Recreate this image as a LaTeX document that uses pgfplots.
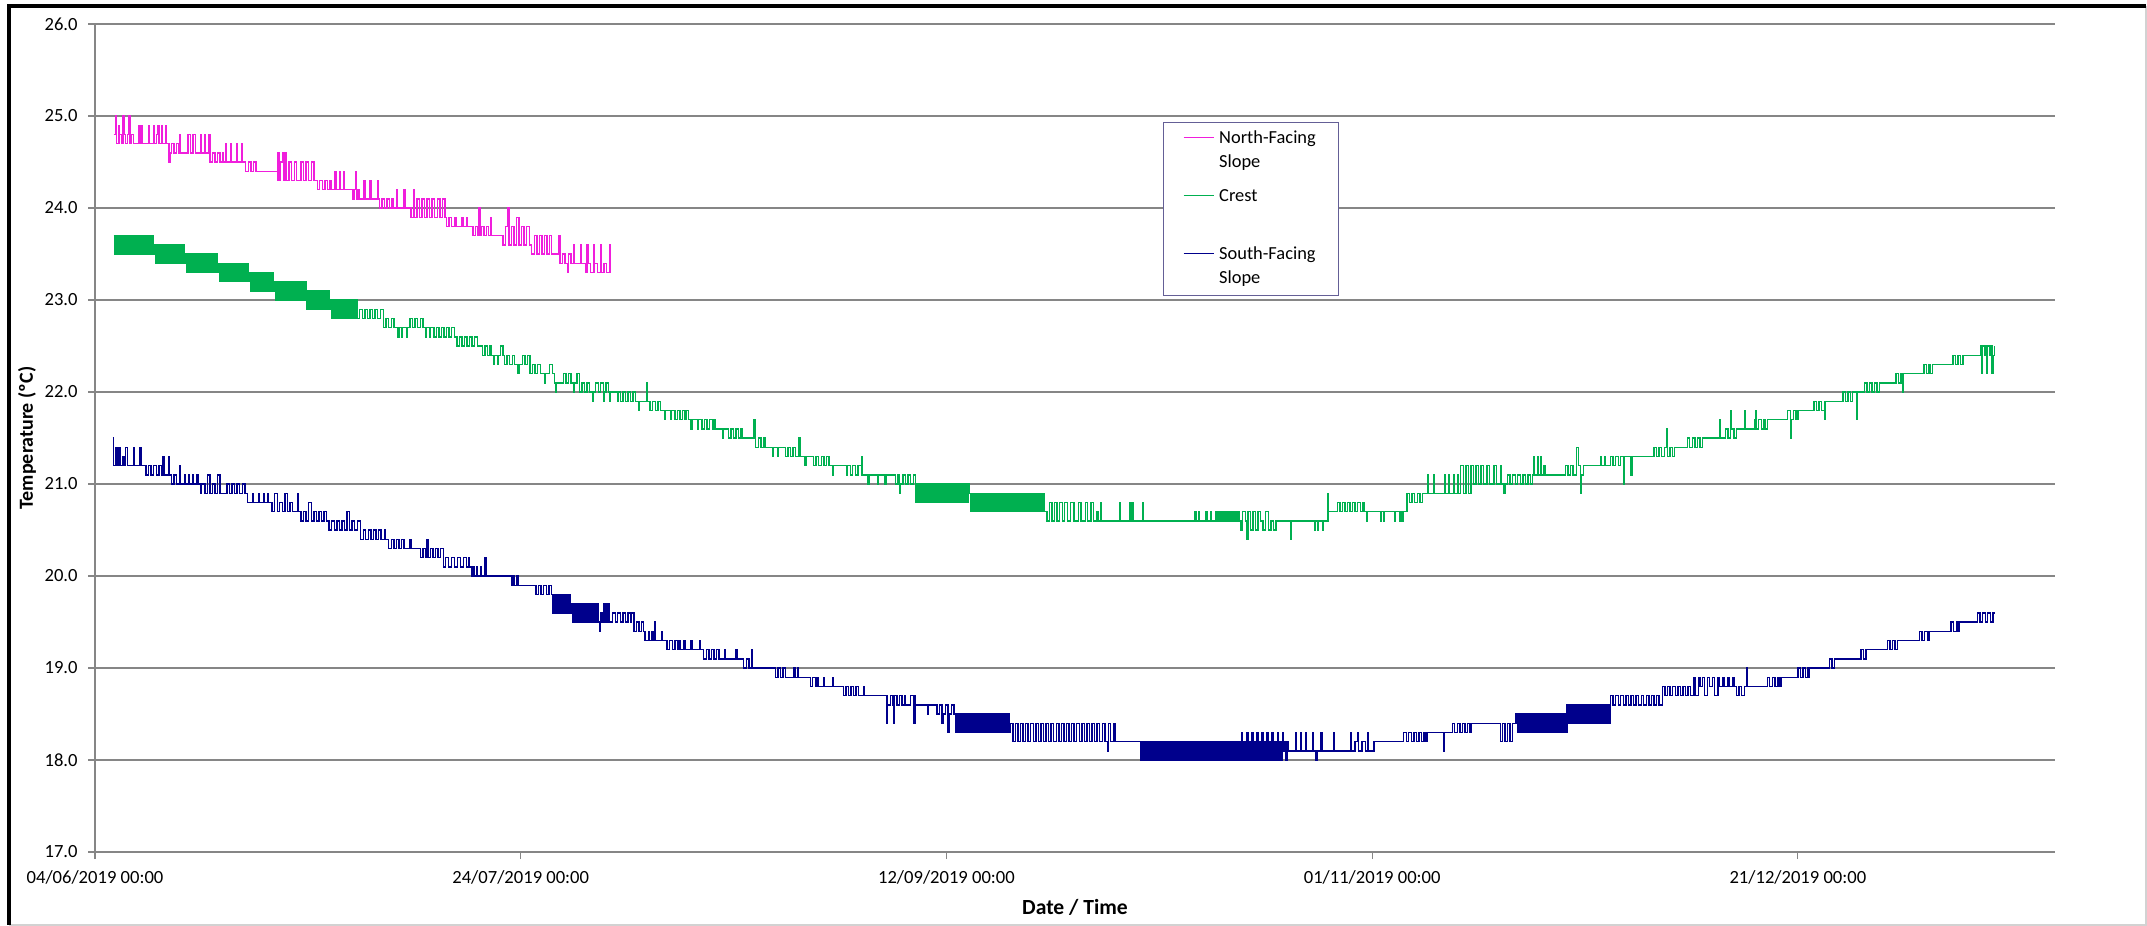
\documentclass[border=0pt]{standalone}
\usepackage{fontspec}
\setmainfont{Carlito}
\usepackage{pgfplots}
\pgfplotsset{compat=1.18}
\definecolor{northc}{RGB}{240,30,220}
\definecolor{crestc}{RGB}{0,176,80}
\definecolor{southc}{RGB}{0,0,140}
\definecolor{gridc}{RGB}{134,134,134}
\definecolor{legc}{RGB}{100,95,150}
\begin{document}
\begin{tikzpicture}
\useasboundingbox (-47.5pt,-37pt) rectangle (1026pt,426pt);
\fill[white] (-47.5pt,-37pt) rectangle (1026pt,426pt);
\draw[gray!35, line width=0.6pt] (1025.5pt,423pt) -- (1025.5pt,-36.5pt) -- (-43pt,-36.5pt);
\draw[black, line width=1.8pt] (-43pt,-36.5pt) -- (-43pt,423pt) -- (1025.5pt,423pt);
\begin{axis}[
  at={(0pt,0pt)}, anchor=south west,
  scale only axis, width=980pt, height=414pt,
  xmin=0, xmax=230.2, ymin=17, ymax=26,
  axis x line*=bottom, axis y line*=left,
  axis line style={draw=gridc, line width=0.6pt, -},
  tick align=outside, major tick length=3.5pt,
  tick style={draw=gridc, line width=0.6pt},
  xtick={0,50,100,150,200},
  xticklabels={04/06/2019 00:00, 24/07/2019 00:00, 12/09/2019 00:00, 01/11/2019 00:00, 21/12/2019 00:00},
  ytick={17,18,...,26},
  ymajorgrids, major grid style={draw=gridc, line width=0.6pt},
  tick label style={font=\fontsize{9.3}{11}\selectfont},
  yticklabel style={/pgf/number format/fixed, /pgf/number format/fixed zerofill, /pgf/number format/precision=1, /pgf/number format/assume math mode=true},
  yticklabel style={anchor=east, inner sep=0pt, xshift=-5pt},
  xticklabel style={anchor=base, yshift=-12pt},
  xlabel={Date / Time}, ylabel={Temperature (ºC)},
  xlabel style={font=\bfseries\fontsize{10.8}{12}\selectfont, at={(axis description cs:0.5,-0.0749)}, anchor=base},
  ylabel style={font=\bfseries\fontsize{10}{12}\selectfont, at={(axis description cs:-0.0347,0.5)}, anchor=center},
  legend style={at={(rel axis cs:0.5449,0.8816)}, anchor=north west, draw=legc, line width=0.6pt,
    inner sep=3.5pt, row sep=7.5pt, column sep=2.5pt, font=\fontsize{9.2}{12}\selectfont,
    nodes={inner sep=0pt, text depth=}, cells={anchor=base west}},
  legend image code/.code={\path[draw=none, fill=none] (0pt,3pt) -- (6.5pt,3pt); \draw[#1] (6.5pt,3pt) -- (21.5pt,3pt);},
]
\addplot[northc, line width=0.7pt, const plot, forget plot] coordinates {
(2.2,24.8)(2.4,25.0)(2.5,24.7)(2.8,24.9)(2.9,24.8)(3.1,24.7)(3.3,25.0)(3.4,24.8)(3.6,24.7)(3.8,24.8)(4.0,25.0)(4.1,24.7)(4.3,24.8)(4.5,24.7)
(5.1,24.9)(5.2,24.7)(5.4,24.9)(5.5,24.7)(6.3,24.9)(6.4,24.7)(6.9,24.9)(7.0,24.7)(7.2,24.8)(7.4,24.9)(7.5,24.7)(7.8,24.9)(7.9,24.7)(8.3,24.9)(8.4,24.7)(8.7,24.5)(8.8,24.6)
(9.0,24.7)(9.3,24.6)(9.6,24.7)(9.8,24.6)(9.9,24.8)(10.0,24.6)(10.9,24.8)(11.2,24.6)(11.5,24.8)(11.8,24.6)(12.4,24.8)(12.5,24.6)(12.9,24.8)(13.0,24.6)(13.4,24.8)(13.5,24.5)
(13.8,24.6)(14.1,24.5)(14.4,24.6)(14.7,24.5)(15.0,24.6)(15.1,24.5)(15.3,24.7)(15.4,24.5)(15.9,24.7)(16.0,24.5)(16.6,24.7)(16.7,24.5)(17.2,24.7)(17.3,24.5)(17.7,24.4)
(18.0,24.5)(18.3,24.4)(18.6,24.5)(18.9,24.4)(21.4,24.3)
(21.5,24.6)(21.6,24.3)(21.8,24.5)(22.1,24.6)(22.2,24.3)(22.4,24.6)(22.5,24.3)(22.8,24.5)(23.1,24.3)(23.4,24.5)(23.7,24.3)(24.2,24.5)(24.5,24.3)(24.8,24.5)(25.1,24.3)(25.4,24.5)(25.7,24.3)(26.1,24.2)
(26.4,24.3)(26.7,24.2)(27.0,24.3)(27.3,24.2)(27.6,24.3)(27.7,24.2)(28.2,24.4)(28.3,24.2)(28.7,24.4)(28.8,24.2)(29.2,24.4)(29.3,24.2)(30.3,24.1)
(30.5,24.2)(30.6,24.4)(30.7,24.1)(30.9,24.2)(31.1,24.1)(31.6,24.3)(31.7,24.1)(32.3,24.3)(32.4,24.1)(33.2,24.3)(33.3,24.1)(33.4,24.0)
(33.7,24.1)(34.0,24.0)(34.3,24.1)(34.6,24.0)(34.9,24.1)(35.0,24.0)(35.4,24.2)(35.5,24.0)(36.3,24.2)(36.4,24.0)(37.1,23.9)
(37.4,24.2)(37.5,23.9)(37.8,24.1)(38.1,23.9)(38.4,24.1)(38.7,23.9)(39.0,24.1)(39.3,23.9)(39.6,24.1)(39.9,23.9)(40.2,24.1)(40.5,23.9)(40.8,24.1)(41.1,23.9)(41.3,23.8)
(41.6,23.9)(41.9,23.8)(42.2,23.9)(42.4,23.8)(43.1,23.9)(43.2,23.8)(43.6,23.9)(43.7,23.8)(44.4,23.7)
(44.7,23.8)(45.0,23.7)(45.1,24.0)(45.2,23.7)(45.4,23.8)(45.7,23.7)(46.0,23.8)(46.2,23.7)(46.5,23.9)(46.6,23.7)(47.9,23.6)
(48.2,23.8)(48.5,24.0)(48.6,23.6)(48.9,23.8)(49.2,23.6)(49.5,23.9)(49.8,23.6)(50.1,23.8)(50.4,23.6)(50.7,23.8)(51.0,23.6)(51.3,23.5)
(51.6,23.7)(51.9,23.5)(52.2,23.7)(52.5,23.5)(52.8,23.7)(53.1,23.5)(53.4,23.7)(53.6,23.5)(54.5,23.7)(54.6,23.4)
(54.9,23.5)(55.2,23.4)(55.5,23.3)(55.6,23.5)(55.9,23.4)(56.2,23.6)(56.3,23.4)(57.0,23.6)(57.1,23.4)(57.6,23.3)
(57.8,23.6)(57.9,23.4)(58.2,23.3)(58.6,23.6)(58.7,23.4)(59.0,23.3)(59.4,23.6)(59.5,23.3)(59.8,23.4)(60.1,23.3)(60.4,23.6)(60.5,23.3)(60.6,23.3)
};
\addplot[crestc, line width=0.7pt, const plot, forget plot] coordinates {
(2.20,23.7)(2.35,23.5)(2.50,23.7)(2.65,23.5)(2.80,23.7)(2.95,23.5)(3.10,23.7)(3.25,23.5)(3.40,23.7)(3.55,23.5)(3.70,23.7)(3.85,23.5)(4.00,23.7)(4.15,23.5)(4.30,23.7)(4.45,23.5)(4.60,23.7)(4.75,23.5)(4.90,23.7)(5.05,23.5)(5.20,23.7)(5.35,23.5)(5.50,23.7)(5.65,23.5)(5.80,23.7)(5.95,23.5)(6.10,23.7)(6.25,23.5)(6.40,23.7)(6.55,23.5)(6.70,23.7)(6.85,23.5)
(7.00,23.6)(7.15,23.4)(7.30,23.6)(7.45,23.4)(7.60,23.6)(7.75,23.4)(7.90,23.6)(8.05,23.4)(8.20,23.6)(8.35,23.4)(8.50,23.6)(8.65,23.4)(8.80,23.6)(8.95,23.4)(9.10,23.6)(9.25,23.4)(9.40,23.6)(9.55,23.4)(9.70,23.6)(9.85,23.4)(10.00,23.6)(10.15,23.4)(10.30,23.6)(10.45,23.4)
(10.60,23.5)(10.75,23.3)(10.90,23.5)(11.05,23.3)(11.20,23.5)(11.35,23.3)(11.50,23.5)(11.65,23.3)(11.80,23.5)(11.95,23.3)(12.10,23.5)(12.25,23.3)(12.40,23.5)(12.55,23.3)(12.70,23.5)(12.85,23.3)(13.00,23.5)(13.15,23.3)(13.30,23.5)(13.45,23.3)(13.60,23.5)(13.75,23.3)(13.90,23.5)(14.05,23.3)(14.20,23.5)(14.35,23.3)
(14.50,23.4)(14.65,23.2)(14.80,23.4)(14.95,23.2)(15.10,23.4)(15.25,23.2)(15.40,23.4)(15.55,23.2)(15.70,23.4)(15.85,23.2)(16.00,23.4)(16.15,23.2)(16.30,23.4)(16.45,23.2)(16.60,23.4)(16.75,23.2)(16.90,23.4)(17.05,23.2)(17.20,23.4)(17.35,23.2)(17.50,23.4)(17.65,23.2)(17.80,23.4)(17.95,23.2)
(18.10,23.3)(18.25,23.1)(18.40,23.3)(18.55,23.1)(18.70,23.3)(18.85,23.1)(19.00,23.3)(19.15,23.1)(19.30,23.3)(19.45,23.1)(19.60,23.3)(19.75,23.1)(19.90,23.3)(20.05,23.1)(20.20,23.3)(20.35,23.1)(20.50,23.3)(20.65,23.1)(20.80,23.3)(20.95,23.1)
(21.10,23.2)(21.25,23.0)(21.40,23.2)(21.55,23.0)(21.70,23.2)(21.85,23.0)(22.00,23.2)(22.15,23.0)(22.30,23.2)(22.45,23.0)(22.60,23.2)(22.75,23.0)(22.90,23.2)(23.05,23.0)(23.20,23.2)(23.35,23.0)(23.50,23.2)(23.65,23.0)(23.80,23.2)(23.95,23.0)(24.10,23.2)(24.25,23.0)(24.40,23.2)(24.55,23.0)(24.70,23.2)
(24.85,22.9)(25.00,23.1)(25.15,22.9)(25.30,23.1)(25.45,22.9)(25.60,23.1)(25.75,22.9)(25.90,23.1)(26.05,22.9)(26.20,23.1)(26.35,22.9)(26.50,23.1)(26.65,22.9)(26.80,23.1)(26.95,22.9)(27.10,23.1)(27.25,22.9)(27.40,23.1)(27.55,22.9)
(27.70,23.0)(27.85,22.8)(28.00,23.0)(28.15,22.8)(28.30,23.0)(28.45,22.8)(28.60,23.0)(28.75,22.8)(28.90,23.0)(29.05,22.8)(29.20,23.0)(29.35,22.8)(29.50,23.0)(29.65,22.8)(29.80,23.0)(29.95,22.8)(30.10,23.0)(30.25,22.8)(30.40,23.0)(30.55,22.8)(30.70,23.0)
(30.8,22.8)(31.1,22.9)(31.4,22.8)(31.7,22.9)(32.0,22.8)(32.3,22.9)(32.6,22.8)(32.9,22.9)(33.2,22.8)(33.5,22.9)
(33.9,22.7)(34.2,22.8)(34.5,22.7)(34.8,22.8)(35.1,22.7)(35.6,22.6)(35.7,22.7)(36.0,22.6)(36.1,22.7)(36.6,22.6)(36.7,22.7)(37.0,22.8)(37.3,22.7)(37.6,22.8)(37.9,22.7)(38.2,22.8)(38.5,22.7)(38.8,22.6)(38.9,22.7)(39.3,22.6)(39.4,22.7)
(39.8,22.6)(40.1,22.7)(40.4,22.6)(40.7,22.7)(41.0,22.6)(41.3,22.7)(41.6,22.6)(41.9,22.7)(42.2,22.6)
(42.5,22.5)(42.8,22.6)(43.1,22.5)(43.4,22.6)(43.7,22.5)(44.0,22.6)(44.3,22.5)(44.6,22.6)(44.9,22.5)
(45.2,22.5)(45.5,22.4)(45.8,22.5)(46.1,22.4)(46.4,22.5)(46.5,22.4)(46.8,22.3)(46.9,22.4)(47.3,22.3)(47.4,22.4)(47.6,22.5)(47.9,22.4)
(48.1,22.3)(48.4,22.4)(48.7,22.3)(49.0,22.4)(49.3,22.3)(49.7,22.2)(49.8,22.3)(50.2,22.4)(50.5,22.3)(50.8,22.4)
(51.1,22.2)(51.4,22.3)(51.7,22.2)(52.0,22.3)(52.3,22.2)(52.8,22.1)(52.9,22.2)(53.4,22.3)(53.7,22.2)
(54.0,22.1)(54.1,22.0)(54.2,22.1)(55.0,22.2)(55.3,22.1)(55.6,22.2)(55.9,22.1)(56.2,22.0)(56.3,22.1)(56.6,22.2)
(56.9,22.0)(57.2,22.1)(57.5,22.0)(57.8,22.1)(58.1,22.0)(58.4,21.9)(58.5,22.0)(58.8,22.1)(59.1,22.0)(59.4,22.1)(59.7,21.9)(59.8,22.0)(60.0,22.1)(60.3,22.0)
(60.4,21.9)(60.5,22.0)(61.4,21.9)(61.5,22.0)
(61.7,21.9)(62.0,22.0)(62.3,21.9)(62.6,22.0)(62.9,21.9)(63.2,22.0)
(63.5,21.9)(63.8,21.8)(63.9,21.9)(64.8,22.1)(64.9,21.9)
(65.2,21.8)(65.5,21.9)(65.8,21.8)(66.1,21.9)(66.4,21.8)
(66.9,21.7)(67.0,21.8)(67.6,21.7)(67.7,21.8)
(68.1,21.7)(68.4,21.8)(68.7,21.7)(69.0,21.8)(69.3,21.7)(69.5,21.8)
(69.7,21.7)(70.0,21.6)(70.1,21.7)(70.8,21.6)(70.9,21.7)
(71.3,21.6)(71.6,21.7)(71.9,21.6)(72.2,21.7)(72.5,21.6)(72.7,21.7)
(72.9,21.6)(73.7,21.5)(73.8,21.6)
(74.4,21.5)(74.7,21.6)(75.0,21.5)(75.3,21.6)(75.6,21.5)(75.8,21.6)
(76.0,21.5)(77.4,21.7)(77.5,21.5)
(77.6,21.4)(77.9,21.5)(78.2,21.4)(78.5,21.5)(78.7,21.4)
(79.6,21.3)(79.7,21.4)(80.2,21.3)(80.3,21.4)
(81.1,21.3)(81.4,21.4)(81.7,21.3)(82.0,21.4)(82.3,21.3)(82.6,21.4)(82.7,21.5)
(82.8,21.3)(83.4,21.2)(83.5,21.3)
(84.4,21.2)(84.7,21.3)(85.0,21.2)(85.3,21.3)(85.6,21.2)(85.9,21.3)(86.2,21.2)
(86.6,21.1)(86.7,21.2)(88.3,21.1)(88.4,21.2)
(88.7,21.1)(89.0,21.2)(89.3,21.1)(89.6,21.2)(90.0,21.3)(90.1,21.1)
(90.8,21.0)(90.9,21.1)(91.9,21.0)(92.0,21.1)(92.8,21.0)(92.9,21.1)
(94.0,21.0)(94.3,21.1)(94.5,20.9)(94.6,21.0)(94.9,21.1)(95.2,21.0)(95.5,21.1)(95.8,21.0)(96.1,21.1)
(96.40,20.8)(96.55,21.0)(96.70,20.8)(96.85,21.0)(97.00,20.8)(97.15,21.0)(97.30,20.8)(97.45,21.0)(97.60,20.8)(97.75,21.0)(97.90,20.8)(98.05,21.0)(98.20,20.8)(98.35,21.0)(98.50,20.8)(98.65,21.0)(98.80,20.8)(98.95,21.0)(99.10,20.8)(99.25,21.0)(99.40,20.8)(99.55,21.0)(99.70,20.8)(99.85,21.0)(100.00,20.8)(100.15,21.0)(100.30,20.8)(100.45,21.0)(100.60,20.8)(100.75,21.0)(100.90,20.8)(101.05,21.0)(101.20,20.8)(101.35,21.0)(101.50,20.8)(101.65,21.0)(101.80,20.8)(101.95,21.0)(102.10,20.8)(102.25,21.0)(102.40,20.8)(102.55,21.0)
(102.70,20.9)(102.85,20.7)(103.00,20.9)(103.15,20.7)(103.30,20.9)(103.45,20.7)(103.60,20.9)(103.75,20.7)(103.90,20.9)(104.05,20.7)(104.20,20.9)(104.35,20.7)(104.50,20.9)(104.65,20.7)(104.80,20.9)(104.95,20.7)(105.10,20.9)(105.25,20.7)(105.40,20.9)(105.55,20.7)(105.70,20.9)(105.85,20.7)(106.00,20.9)(106.15,20.7)(106.30,20.9)(106.45,20.7)(106.60,20.9)(106.75,20.7)(106.90,20.9)(107.05,20.7)(107.20,20.9)(107.35,20.7)(107.50,20.9)(107.65,20.7)(107.80,20.9)(107.95,20.7)(108.10,20.9)(108.25,20.7)(108.40,20.9)(108.55,20.7)(108.70,20.9)(108.85,20.7)(109.00,20.9)(109.15,20.7)(109.30,20.9)(109.45,20.7)(109.60,20.9)(109.75,20.7)(109.90,20.9)(110.05,20.7)(110.20,20.9)(110.35,20.7)(110.50,20.9)(110.65,20.7)(110.80,20.9)(110.95,20.7)(111.10,20.9)(111.25,20.7)(111.40,20.9)(111.55,20.7)
(111.8,20.6)(112.1,20.8)(112.4,20.6)(112.7,20.8)(113.0,20.6)(113.3,20.8)(113.6,20.6)(113.9,20.8)(114.2,20.6)(114.6,20.8)(115.0,20.6)(115.5,20.8)(115.8,20.6)(116.3,20.8)(116.6,20.6)(117.0,20.8)(117.3,20.6)(117.6,20.7)(117.8,20.6)
(118.1,20.8)(118.2,20.6)(120.3,20.8)(120.4,20.6)(121.5,20.8)(121.6,20.6)(121.8,20.8)(121.9,20.6)(123.0,20.8)(123.1,20.6)
(129.2,20.7)(129.3,20.6)(129.6,20.7)(129.7,20.6)(130.5,20.7)(130.6,20.6)(131.0,20.7)(131.1,20.6)
(131.60,20.7)(131.75,20.6)(131.90,20.7)(132.05,20.6)(132.20,20.7)(132.35,20.6)(132.50,20.7)(132.65,20.6)(132.80,20.7)(132.95,20.6)(133.10,20.7)(133.25,20.6)(133.40,20.7)(133.55,20.6)(133.70,20.7)(133.85,20.6)(134.00,20.7)(134.15,20.6)(134.30,20.7)(134.45,20.6)
(134.6,20.5)(134.8,20.7)(135.1,20.6)(135.3,20.4)(135.4,20.7)(135.7,20.5)(136.0,20.7)(136.3,20.5)(136.6,20.7)(136.9,20.6)(137.2,20.5)(137.5,20.7)(137.8,20.5)(138.1,20.6)(138.4,20.5)(138.7,20.6)
(140.4,20.4)(140.5,20.6)(143.2,20.5)(143.3,20.6)(143.6,20.5)(143.7,20.6)(144.2,20.5)(144.3,20.6)(144.8,20.9)(144.9,20.7)
(145.9,20.8)(146.2,20.7)(146.5,20.8)(146.8,20.7)(147.1,20.8)(147.4,20.7)(147.7,20.8)(148.0,20.7)(148.3,20.8)(148.6,20.7)(148.9,20.8)(149.1,20.7)
(149.3,20.6)(149.4,20.7)(151.0,20.6)(151.1,20.7)(151.3,20.6)(151.4,20.7)(152.6,20.6)(152.7,20.7)(153.2,20.6)(153.3,20.7)(153.5,20.6)(153.6,20.7)
(154.1,20.9)(154.4,20.8)(154.7,20.9)(155.0,20.8)(155.3,20.9)(155.6,20.8)
(155.9,20.9)(156.5,21.1)(156.6,20.9)(157.2,21.1)(157.3,20.9)(158.5,21.1)(158.6,20.9)(159.0,21.1)(159.1,20.9)(159.6,21.1)(159.7,20.9)(160.0,21.1)(160.1,20.9)
(160.4,21.2)(160.7,20.9)(161.0,21.2)(161.3,20.9)(161.6,21.2)(161.9,21.0)(162.2,21.2)(162.5,21.0)
(162.8,21.2)(163.1,21.0)(163.5,21.2)(163.8,21.0)(164.3,21.2)(164.6,21.0)(165.1,21.2)(165.2,21.0)(165.5,20.9)(165.6,21.0)
(165.9,21.1)(166.2,21.0)(166.5,21.1)(166.8,21.0)(167.1,21.1)(167.4,21.0)(167.7,21.1)(168.0,21.0)(168.3,21.1)(168.6,21.0)
(168.8,21.1)(169.0,21.3)(169.1,21.1)(169.4,21.3)(169.5,21.1)(169.8,21.3)(169.9,21.1)(170.2,21.2)(170.3,21.1)
(172.7,21.2)(173.0,21.1)(173.3,21.2)(173.6,21.1)(174.0,21.4)(174.2,21.2)(174.5,20.9)(174.6,21.1)(174.8,21.2)
(176.8,21.3)(176.9,21.2)(177.3,21.3)(177.4,21.2)
(178.0,21.3)(178.3,21.2)(178.6,21.3)(178.9,21.2)(179.2,21.3)(179.5,21.0)(179.6,21.3)
(180.4,21.1)(180.5,21.3)
(183.1,21.4)(183.4,21.3)(183.7,21.4)(184.0,21.3)(184.3,21.4)(184.6,21.6)(184.7,21.3)(185.0,21.4)(185.3,21.3)(185.5,21.4)
(187.0,21.5)(187.3,21.4)(187.6,21.5)(187.9,21.4)(188.2,21.5)(188.5,21.4)(188.8,21.5)
(190.8,21.7)(190.9,21.5)
(191.5,21.6)(191.8,21.5)(192.1,21.8)(192.2,21.6)(192.5,21.5)(192.8,21.6)
(193.7,21.8)(193.8,21.6)
(194.9,21.7)(195.0,21.8)(195.1,21.6)(195.4,21.7)(195.7,21.6)(196.0,21.7)(196.2,21.6)(196.4,21.7)
(198.8,21.8)(199.1,21.5)(199.2,21.7)(199.5,21.8)(199.8,21.7)(200.0,21.8)
(201.9,21.9)(202.2,21.8)(202.5,21.9)(202.8,21.8)(203.1,21.7)(203.2,21.9)
(205.3,22.0)(205.6,21.9)(205.9,22.0)(206.2,21.9)(206.4,22.0)(206.9,21.7)(207.0,22.0)
(207.8,22.1)(208.1,22.0)(208.4,22.1)(208.7,22.0)(209.0,22.1)(209.3,22.0)(209.6,22.1)
(211.5,22.2)(211.8,22.1)(212.1,22.2)(212.3,22.0)(212.4,22.2)
(214.8,22.3)(215.1,22.2)(215.4,22.3)(215.6,22.2)(215.8,22.3)
(218.2,22.4)(218.5,22.3)(218.8,22.4)(219.1,22.3)(219.4,22.4)
(221.5,22.5)(221.6,22.2)(221.7,22.5)(221.9,22.4)(222.1,22.5)(222.2,22.2)(222.3,22.5)(222.5,22.4)(222.7,22.5)(222.8,22.2)(222.9,22.4)(223.1,22.5)
};
\addplot[southc, line width=0.7pt, const plot, forget plot] coordinates {
(2.1,21.5)(2.2,21.2)(2.4,21.4)(2.6,21.2)(2.8,21.4)(3.0,21.2)(3.2,21.3)(3.4,21.2)(3.6,21.4)(3.8,21.2)(4.5,21.4)(4.6,21.2)(5.3,21.4)(5.4,21.2)
(6.0,21.1)(6.3,21.2)(6.6,21.1)(6.9,21.2)(7.2,21.1)(7.5,21.2)(7.8,21.1)(8.0,21.3)(8.1,21.1)(8.6,21.3)(8.7,21.1)
(9.0,21.0)(9.3,21.1)(9.6,21.0)(9.9,21.2)(10.0,21.0)(10.5,21.1)(10.6,21.0)(11.0,21.1)(11.1,21.0)(11.5,21.1)(11.6,21.0)(12.0,21.1)(12.1,21.0)(12.4,20.9)(12.5,21.0)
(12.9,20.9)(13.2,21.1)(13.5,20.9)(13.8,21.0)(14.1,20.9)(14.4,21.1)(14.7,20.9)(15.5,21.0)(15.8,20.9)(16.1,21.0)(16.4,20.9)(16.7,21.0)(17.0,20.9)(17.3,21.0)(17.6,20.9)
(17.9,20.8)(18.5,20.9)(18.6,20.8)(19.2,20.9)(19.3,20.8)(19.8,20.9)(19.9,20.8)(20.3,20.9)(20.4,20.8)
(20.8,20.7)(21.1,20.9)(21.4,20.7)(21.7,20.8)(22.0,20.7)(22.3,20.9)(22.6,20.7)(22.9,20.8)(23.2,20.7)(23.8,20.9)(23.9,20.7)
(24.2,20.6)(24.5,20.7)(24.8,20.6)(25.1,20.8)(25.4,20.6)(25.7,20.7)(26.0,20.6)(26.3,20.7)(26.6,20.6)(26.9,20.7)(27.2,20.6)
(27.5,20.5)(27.8,20.6)(28.1,20.5)(28.4,20.6)(28.7,20.5)(29.0,20.6)(29.3,20.5)(29.6,20.7)(29.9,20.5)(30.2,20.6)(30.5,20.5)(30.8,20.6)
(31.2,20.4)(31.5,20.5)(31.8,20.4)(32.1,20.5)(32.4,20.4)(32.7,20.5)(33.0,20.4)(33.3,20.5)(33.6,20.4)(34.0,20.5)(34.1,20.4)
(34.5,20.3)(34.8,20.4)(35.1,20.3)(35.4,20.4)(35.7,20.3)(36.0,20.4)(36.3,20.3)(37.0,20.4)(37.1,20.3)
(38.2,20.2)(38.5,20.3)(38.8,20.2)(39.0,20.4)(39.1,20.2)(39.4,20.3)(39.7,20.2)(40.0,20.3)(40.3,20.2)(40.6,20.3)
(40.9,20.1)(41.2,20.2)(41.5,20.1)(41.9,20.2)(42.2,20.1)(42.6,20.2)(42.9,20.1)(43.3,20.2)(43.6,20.1)(43.9,20.2)(44.0,20.1)
(44.2,20.0)(44.4,20.1)(44.5,20.0)(44.8,20.1)(44.9,20.0)(45.3,20.1)(45.4,20.0)(45.8,20.2)(45.9,20.0)
(48.9,19.9)(49.1,20.0)(49.3,19.9)(49.5,20.0)(49.7,19.9)
(51.8,19.8)(52.1,19.9)(52.4,19.8)(52.7,19.9)(53.0,19.8)(53.3,19.9)
(53.60,19.8)(53.75,19.6)(53.90,19.8)(54.05,19.6)(54.20,19.8)(54.35,19.6)(54.50,19.8)(54.65,19.6)(54.80,19.8)(54.95,19.6)(55.10,19.8)(55.25,19.6)(55.40,19.8)(55.55,19.6)(55.70,19.8)(55.85,19.6)(56.00,19.7)
(56.10,19.5)(56.25,19.7)(56.40,19.5)(56.55,19.7)(56.70,19.5)(56.85,19.7)(57.00,19.5)(57.15,19.7)(57.30,19.5)(57.45,19.7)(57.60,19.5)(57.75,19.7)(57.90,19.5)(58.05,19.7)(58.20,19.5)(58.35,19.7)(58.50,19.5)(58.65,19.7)(58.80,19.5)(58.95,19.7)(59.10,19.5)(59.30,19.4)(59.40,19.6)(59.55,19.5)(59.70,19.7)(59.85,19.5)(60.00,19.7)(60.15,19.5)(60.30,19.7)(60.45,19.5)
(60.8,19.6)(61.1,19.5)(61.4,19.6)(61.7,19.5)(62.0,19.6)(62.3,19.5)(62.6,19.6)(62.9,19.5)(63.0,19.6)
(63.3,19.4)(63.6,19.5)(63.9,19.4)(64.2,19.5)(64.4,19.4)
(64.6,19.3)(65.0,19.4)(65.1,19.3)(65.4,19.4)(65.6,19.3)(65.7,19.5)(65.8,19.3)(66.5,19.4)(66.6,19.3)
(67.2,19.2)(67.5,19.3)(67.8,19.2)(68.1,19.3)(68.4,19.2)(68.6,19.3)(68.7,19.2)(69.2,19.3)(69.3,19.2)(70.0,19.3)(70.1,19.2)(71.0,19.3)(71.1,19.2)
(71.5,19.1)(71.8,19.2)(72.1,19.1)(72.4,19.2)(72.7,19.1)(73.0,19.2)(73.3,19.1)(73.9,19.2)(74.0,19.1)(75.3,19.2)(75.4,19.1)
(76.2,19.0)(76.5,19.1)(76.8,19.0)(77.1,19.2)(77.2,19.0)
(79.9,18.9)(80.2,19.0)(80.5,18.9)(80.8,19.0)(81.1,18.9)(82.1,19.0)(82.2,18.9)(82.5,19.0)(82.6,18.9)
(84.0,18.8)(84.3,18.9)(84.6,18.8)(84.8,18.9)(85.0,18.8)(85.6,18.9)(85.7,18.8)(86.6,18.9)(86.7,18.8)
(87.9,18.7)(88.2,18.8)(88.5,18.7)(88.8,18.8)(89.1,18.7)(89.4,18.8)(89.7,18.7)(90.3,18.8)(90.4,18.7)
(93.0,18.4)(93.1,18.6)(93.4,18.7)(93.7,18.6)(93.8,18.4)(93.9,18.7)(94.2,18.6)(94.5,18.7)(94.8,18.6)(95.1,18.7)(95.2,18.6)(95.8,18.7)(96.1,18.6)(96.2,18.4)(96.3,18.7)(96.4,18.6)(97.8,18.5)(97.9,18.6)
(98.9,18.5)(99.2,18.6)(99.5,18.4)(99.6,18.5)(99.9,18.6)(100.2,18.3)(100.3,18.5)(100.6,18.6)
(100.90,18.5)(101.05,18.3)(101.20,18.5)(101.35,18.3)(101.50,18.5)(101.65,18.3)(101.80,18.5)(101.95,18.3)(102.10,18.5)(102.25,18.3)(102.40,18.5)(102.55,18.3)(102.70,18.5)(102.85,18.3)(103.00,18.5)(103.15,18.3)(103.30,18.5)(103.45,18.3)(103.60,18.5)(103.75,18.3)(103.90,18.5)(104.05,18.3)(104.20,18.5)(104.35,18.3)(104.50,18.5)(104.65,18.3)(104.80,18.5)(104.95,18.3)(105.10,18.5)(105.25,18.3)(105.40,18.5)(105.55,18.3)(105.70,18.5)(105.85,18.3)(106.00,18.5)(106.15,18.3)(106.30,18.5)(106.45,18.3)(106.60,18.5)(106.75,18.3)(106.90,18.5)(107.05,18.3)(107.20,18.5)(107.35,18.3)
(107.5,18.4)(107.8,18.2)(108.1,18.4)(108.4,18.2)(108.7,18.4)(109.0,18.2)(109.3,18.4)(109.6,18.2)(109.9,18.4)(110.2,18.2)(110.5,18.4)(110.8,18.2)(111.1,18.4)(111.4,18.2)(111.7,18.4)(112.0,18.2)(112.3,18.4)(112.6,18.2)(112.9,18.4)(113.2,18.2)(113.5,18.4)(113.8,18.2)(114.1,18.4)(114.4,18.2)(114.7,18.4)(115.0,18.2)(115.3,18.4)(115.6,18.2)(115.9,18.4)(116.2,18.2)(116.5,18.4)(116.8,18.2)(117.1,18.4)(117.4,18.2)(117.7,18.4)(118.0,18.2)(118.3,18.4)(118.6,18.2)(118.9,18.1)(119.0,18.4)(119.3,18.2)(119.6,18.4)(119.8,18.2)
(122.80,18.0)(122.95,18.2)(123.10,18.0)(123.25,18.2)(123.40,18.0)(123.55,18.2)(123.70,18.0)(123.85,18.2)(124.00,18.0)(124.15,18.2)(124.30,18.0)(124.45,18.2)(124.60,18.0)(124.75,18.2)(124.90,18.0)(125.05,18.2)(125.20,18.0)(125.35,18.2)(125.50,18.0)(125.65,18.2)(125.80,18.0)(125.95,18.2)(126.10,18.0)(126.25,18.2)(126.40,18.0)(126.55,18.2)(126.70,18.0)(126.85,18.2)(127.00,18.0)(127.15,18.2)(127.30,18.0)(127.45,18.2)(127.60,18.0)(127.75,18.2)(127.90,18.0)(128.05,18.2)(128.20,18.0)(128.35,18.2)(128.50,18.0)(128.65,18.2)(128.80,18.0)(128.95,18.2)(129.10,18.0)(129.25,18.2)(129.40,18.0)(129.55,18.2)(129.70,18.0)(129.85,18.2)(130.00,18.0)(130.15,18.2)(130.30,18.0)(130.45,18.2)(130.60,18.0)(130.75,18.2)(130.90,18.0)(131.05,18.2)(131.20,18.0)(131.35,18.2)(131.50,18.0)(131.65,18.2)(131.80,18.0)(131.95,18.2)(132.10,18.0)(132.25,18.2)(132.40,18.0)(132.55,18.2)(132.70,18.0)(132.85,18.2)(133.00,18.0)(133.15,18.2)(133.30,18.0)(133.45,18.2)(133.60,18.0)(133.75,18.2)(133.90,18.0)(134.05,18.2)(134.20,18.0)(134.35,18.2)
(134.50,18.0)(134.65,18.3)(134.80,18.0)(134.95,18.2)(135.10,18.0)(135.25,18.3)(135.40,18.0)(135.55,18.2)(135.70,18.0)(135.85,18.3)(136.00,18.0)(136.15,18.2)(136.30,18.0)(136.45,18.3)(136.60,18.0)(136.75,18.2)(136.90,18.0)(137.05,18.3)(137.20,18.0)(137.35,18.2)(137.50,18.0)(137.65,18.3)(137.80,18.0)(137.95,18.2)(138.10,18.0)(138.25,18.3)(138.40,18.0)(138.55,18.2)(138.70,18.0)(138.85,18.3)(139.00,18.0)(139.15,18.2)(139.30,18.0)(139.45,18.3)(139.60,18.1)(139.75,18.2)(139.90,18.0)(140.05,18.2)(140.20,18.1)
(141.0,18.3)(141.1,18.1)(141.6,18.3)(141.7,18.1)(142.2,18.3)(142.3,18.1)(143.0,18.3)(143.1,18.1)(143.4,18.0)(143.5,18.1)(144.0,18.3)(144.1,18.1)(145.5,18.3)(145.6,18.1)(147.5,18.3)(147.6,18.1)(148.0,18.2)(148.3,18.3)(148.4,18.1)(148.8,18.2)(149.2,18.1)(149.5,18.3)(149.6,18.1)
(150.2,18.2)
(153.7,18.3)(154.0,18.2)(154.3,18.3)(154.6,18.2)(154.9,18.3)(155.2,18.2)(155.5,18.3)(155.8,18.2)(156.1,18.3)(156.3,18.2)
(156.5,18.3)(158.4,18.1)(158.5,18.3)
(159.4,18.4)(159.7,18.3)(160.0,18.4)(160.3,18.3)(160.6,18.4)(160.9,18.3)(161.2,18.4)(161.4,18.3)(161.6,18.4)
(165.1,18.2)(165.3,18.4)(165.6,18.2)(165.9,18.4)(166.2,18.2)(166.5,18.4)
(166.90,18.5)(167.05,18.3)(167.20,18.5)(167.35,18.3)(167.50,18.5)(167.65,18.3)(167.80,18.5)(167.95,18.3)(168.10,18.5)(168.25,18.3)(168.40,18.5)(168.55,18.3)(168.70,18.5)(168.85,18.3)(169.00,18.5)(169.15,18.3)(169.30,18.5)(169.45,18.3)(169.60,18.5)(169.75,18.3)(169.90,18.5)(170.05,18.3)(170.20,18.5)(170.35,18.3)(170.50,18.5)(170.65,18.3)(170.80,18.5)(170.95,18.3)(171.10,18.5)(171.25,18.3)(171.40,18.5)(171.55,18.3)(171.70,18.5)(171.85,18.3)(172.00,18.5)(172.15,18.3)(172.30,18.5)(172.45,18.3)(172.60,18.5)(172.75,18.3)
(172.90,18.6)(173.05,18.4)(173.20,18.6)(173.35,18.4)(173.50,18.6)(173.65,18.4)(173.80,18.6)(173.95,18.4)(174.10,18.6)(174.25,18.4)(174.40,18.6)(174.55,18.4)(174.70,18.6)(174.85,18.4)(175.00,18.6)(175.15,18.4)(175.30,18.6)(175.45,18.4)(175.60,18.6)(175.75,18.4)(175.90,18.6)(176.05,18.4)(176.20,18.6)(176.35,18.4)(176.50,18.6)(176.65,18.4)(176.80,18.6)(176.95,18.4)(177.10,18.6)(177.25,18.4)(177.40,18.6)(177.55,18.4)(177.70,18.6)(177.85,18.4)
(178.0,18.7)(178.3,18.6)(178.6,18.7)(178.9,18.6)(179.2,18.7)(179.5,18.6)(179.8,18.7)(180.1,18.6)(180.4,18.7)(180.7,18.6)(181.0,18.7)(181.3,18.6)(181.6,18.7)(181.9,18.6)(182.2,18.7)(182.5,18.6)(182.8,18.7)(183.1,18.6)(183.4,18.7)(183.7,18.6)
(184.1,18.8)(184.4,18.7)(184.7,18.8)(185.0,18.7)(185.3,18.8)(185.6,18.7)(185.9,18.8)(186.2,18.7)(186.5,18.8)(186.8,18.7)(187.1,18.8)(187.4,18.7)
(187.8,18.9)(188.0,18.7)(188.3,18.9)(188.5,18.8)(188.8,18.9)(189.0,18.7)(189.4,18.9)(189.6,18.8)(190.0,18.9)(190.2,18.7)(190.6,18.9)(190.8,18.8)(191.2,18.9)(191.4,18.8)(191.8,18.9)(192.0,18.8)(192.3,18.9)(192.5,18.8)(192.8,18.7)(193.1,18.8)(193.4,18.7)(193.7,18.8)
(194.0,19.0)(194.1,18.8)
(196.4,18.9)(196.7,18.8)(197.0,18.9)(197.3,18.8)(197.6,18.9)(197.8,18.8)(198.0,18.9)
(200.0,19.0)(200.3,18.9)(200.6,19.0)(200.9,18.9)(201.1,19.0)(201.2,18.9)(201.3,19.0)
(203.7,19.1)(204.0,19.0)(204.3,19.1)
(207.4,19.2)(207.7,19.1)(208.0,19.2)
(210.5,19.3)(210.8,19.2)(211.1,19.3)(211.4,19.2)(211.7,19.3)
(214.3,19.4)(214.6,19.3)(214.9,19.4)(215.2,19.3)(215.4,19.4)
(218.0,19.5)(218.3,19.4)(218.6,19.5)(218.8,19.4)(219.0,19.5)
(221.1,19.6)(221.4,19.5)(221.7,19.6)(222.0,19.5)(222.3,19.6)(222.6,19.5)(222.9,19.6)(223.1,19.6)
};
\addlegendimage{northc, line width=0.6pt}
\addlegendentry{\parbox[t]{56pt}{\rule{0pt}{7pt}North-Facing\\Slope\rule[-2.5pt]{0pt}{2.5pt}}}
\addlegendimage{crestc, line width=0.6pt}
\addlegendentry{\parbox[t]{56pt}{\rule[-14.5pt]{0pt}{21.5pt}Crest}}
\addlegendimage{southc, line width=0.6pt}
\addlegendentry{\parbox[t]{56pt}{\rule{0pt}{7pt}South-Facing\\Slope\rule[-2.5pt]{0pt}{2.5pt}}}
\end{axis}
\end{tikzpicture}
\end{document}
